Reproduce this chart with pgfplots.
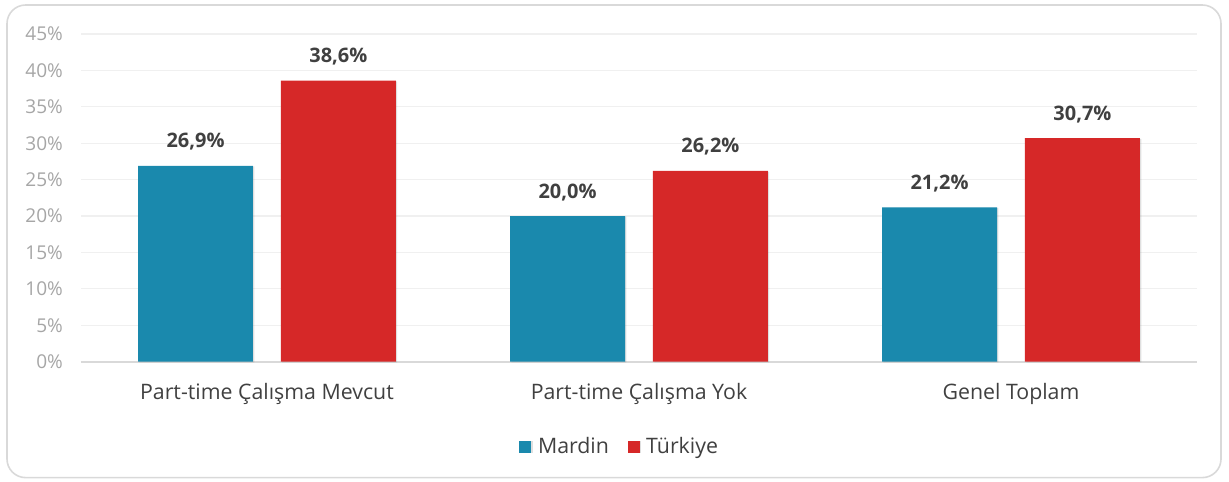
\documentclass[border=0pt]{standalone}
\usepackage{pgfplots}
\pgfplotsset{compat=1.18}
\usepackage{fontspec}
\setmainfont{Open Sans}
\usetikzlibrary{shadows}
\definecolor{cMar}{HTML}{1A89AD}
\definecolor{cTur}{HTML}{D62828}
\definecolor{txt}{HTML}{404040}
\definecolor{tick}{HTML}{A6A6A6}
\definecolor{gridc}{HTML}{F0F0F0}
\definecolor{framec}{HTML}{D9D9D9}
\begin{document}
\begin{tikzpicture}
\useasboundingbox (-60.75pt,-90pt) rectangle (861.75pt,271.5pt);
\draw[framec, line width=1.2pt, rounded corners=14pt] (-55.5pt,-87pt) rectangle (855.75pt,267.75pt);
\begin{axis}[
  at={(0,0)}, anchor=south west,
  scale only axis,
  width=837.75pt, height=246pt,
  xmin=-0.5, xmax=2.5,
  ymin=0, ymax=45,
  ytick={0,5,...,45},
  /pgf/number format/assume math mode=true,
  yticklabel={\pgfmathprintnumber{\tick}\%},
  yticklabel style={font=\fontsize{14.3}{16}\selectfont, text=tick, xshift=-10pt},
  xtick={0,1,2},
  xticklabels={Part-time Çalışma Mevcut, Part-time Çalışma Yok, Genel Toplam},
  xticklabel style={font=\fontsize{16}{18}\selectfont, text=txt, yshift=-13pt},
  major tick length=0pt,
  axis x line*=bottom,
  axis y line*=left,
  y axis line style={draw=none},
  x axis line style={draw=framec, line width=1.2pt},
  ymajorgrids,
  grid style={draw=gridc, line width=0.9pt},
  ybar,
  bar width=0.309,
  nodes near coords={\pgfmathprintnumber[fixed,fixed zerofill,precision=1,use comma]{\pgfplotspointmeta}\%},
  every node near coord/.append style={font=\bfseries\fontsize{15}{17}\selectfont, text=txt, yshift=8pt},
  legend style={at={(0.483,-0.259)}, anchor=center, draw=none, legend columns=2,
    font=\fontsize{16}{18}\selectfont, text=txt,
    /tikz/every odd column/.append style={column sep=3pt},
    /tikz/every even column/.append style={column sep=12pt}},
  legend image code/.code={\fill[#1, draw=none] (0pt,-4.5pt) rectangle (9pt,4.5pt);},
  clip=false,
]
\addplot[fill=cMar, draw=none, bar shift=-0.192, drop shadow={opacity=0.25, shadow xshift=1pt, shadow yshift=-0.5pt}] coordinates {(0,26.9) (1,20.0) (2,21.2)};
\addplot[fill=cTur, draw=none, bar shift=0.192, drop shadow={opacity=0.25, shadow xshift=1pt, shadow yshift=-0.5pt}] coordinates {(0,38.6) (1,26.2) (2,30.7)};
\legend{Mardin, Türkiye}
\end{axis}
\end{tikzpicture}
\end{document}
